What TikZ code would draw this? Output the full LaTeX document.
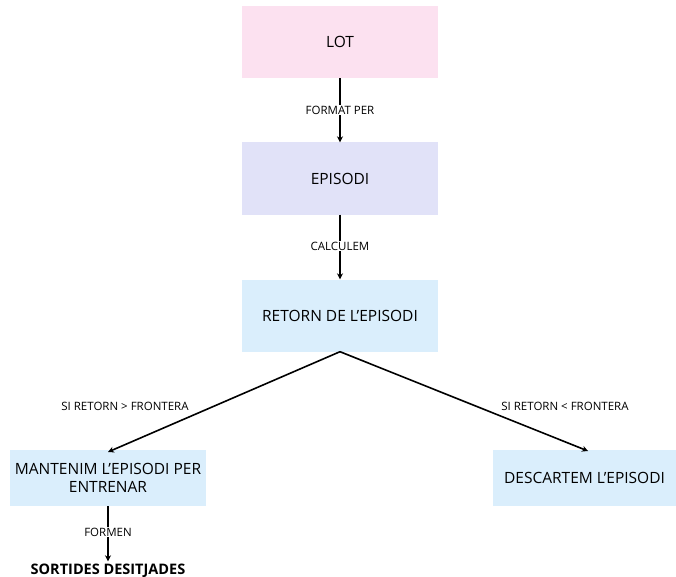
\documentclass[tikz,border=0pt]{standalone}
\usepackage{fontspec}
\setmainfont{Open Sans}
\usetikzlibrary{arrows.meta}
\definecolor{pinkbox}{HTML}{FCE1F0}
\definecolor{lavbox}{HTML}{E1E2F8}
\definecolor{bluebox}{HTML}{DAEEFC}
\begin{document}
\begin{tikzpicture}[x=1pt,y=-1pt,
  box/.style={draw=none,minimum width=196pt,minimum height=72pt,font=\fontsize{15.5}{18.5}\selectfont,align=center,inner sep=0pt},
  lbl/.style={font=\fontsize{11.5}{13}\selectfont,inner sep=1pt},
  conn/.style={line width=1.6pt,black},
  arr/.style={conn,-{Stealth[length=6pt,width=6pt]}}]
\useasboundingbox (0,0) rectangle (676,577);
\node[box,fill=pinkbox] (lot) at (340,42) {LOT};
\node[box,fill=lavbox] (ep) at (340,178.5) {EPISODI};
\node[box,fill=bluebox] (ret) at (340,315.5) {RETORN DE L’EPISODI};
\node[box,fill=bluebox,minimum width=196pt,minimum height=56pt] (man) at (108,478) {MANTENIM L’EPISODI PER\\ENTRENAR};
\node[box,fill=bluebox,minimum width=183pt,minimum height=56pt] (desc) at (584.5,478) {DESCARTEM L’EPISODI};
\node[lbl] (l1) at (340,110) {FORMAT PER};
\node[lbl] (l2) at (340,246) {CALCULEM};
\node[lbl] (l3) at (108,532) {FORMEN};
\node[lbl] (l4) at (125,406) {SI RETORN > FRONTERA};
\node[lbl] (l5) at (565,406) {SI RETORN < FRONTERA};
\node[font=\fontsize{14.5}{16}\selectfont\bfseries,inner sep=1pt,anchor=base] (out) at (108,574) {SORTIDES DESITJADES};
\draw[conn] (lot.south) -- (l1.north);
\draw[arr] (l1.south) -- (ep.north);
\draw[conn] (ep.south) -- (l2.north);
\draw[arr] (l2.south) -- (ret.north);
\draw[conn] (man.south) -- (l3.north);
\draw[arr,shorten >=1pt] (l3.south) -- (out.north);
\coordinate (a1) at (108,452);
\coordinate (a2) at (588,451);
\draw[arr] (ret.south) -- (a1);
\draw[arr] (ret.south) -- (a2);
\end{tikzpicture}
\end{document}
